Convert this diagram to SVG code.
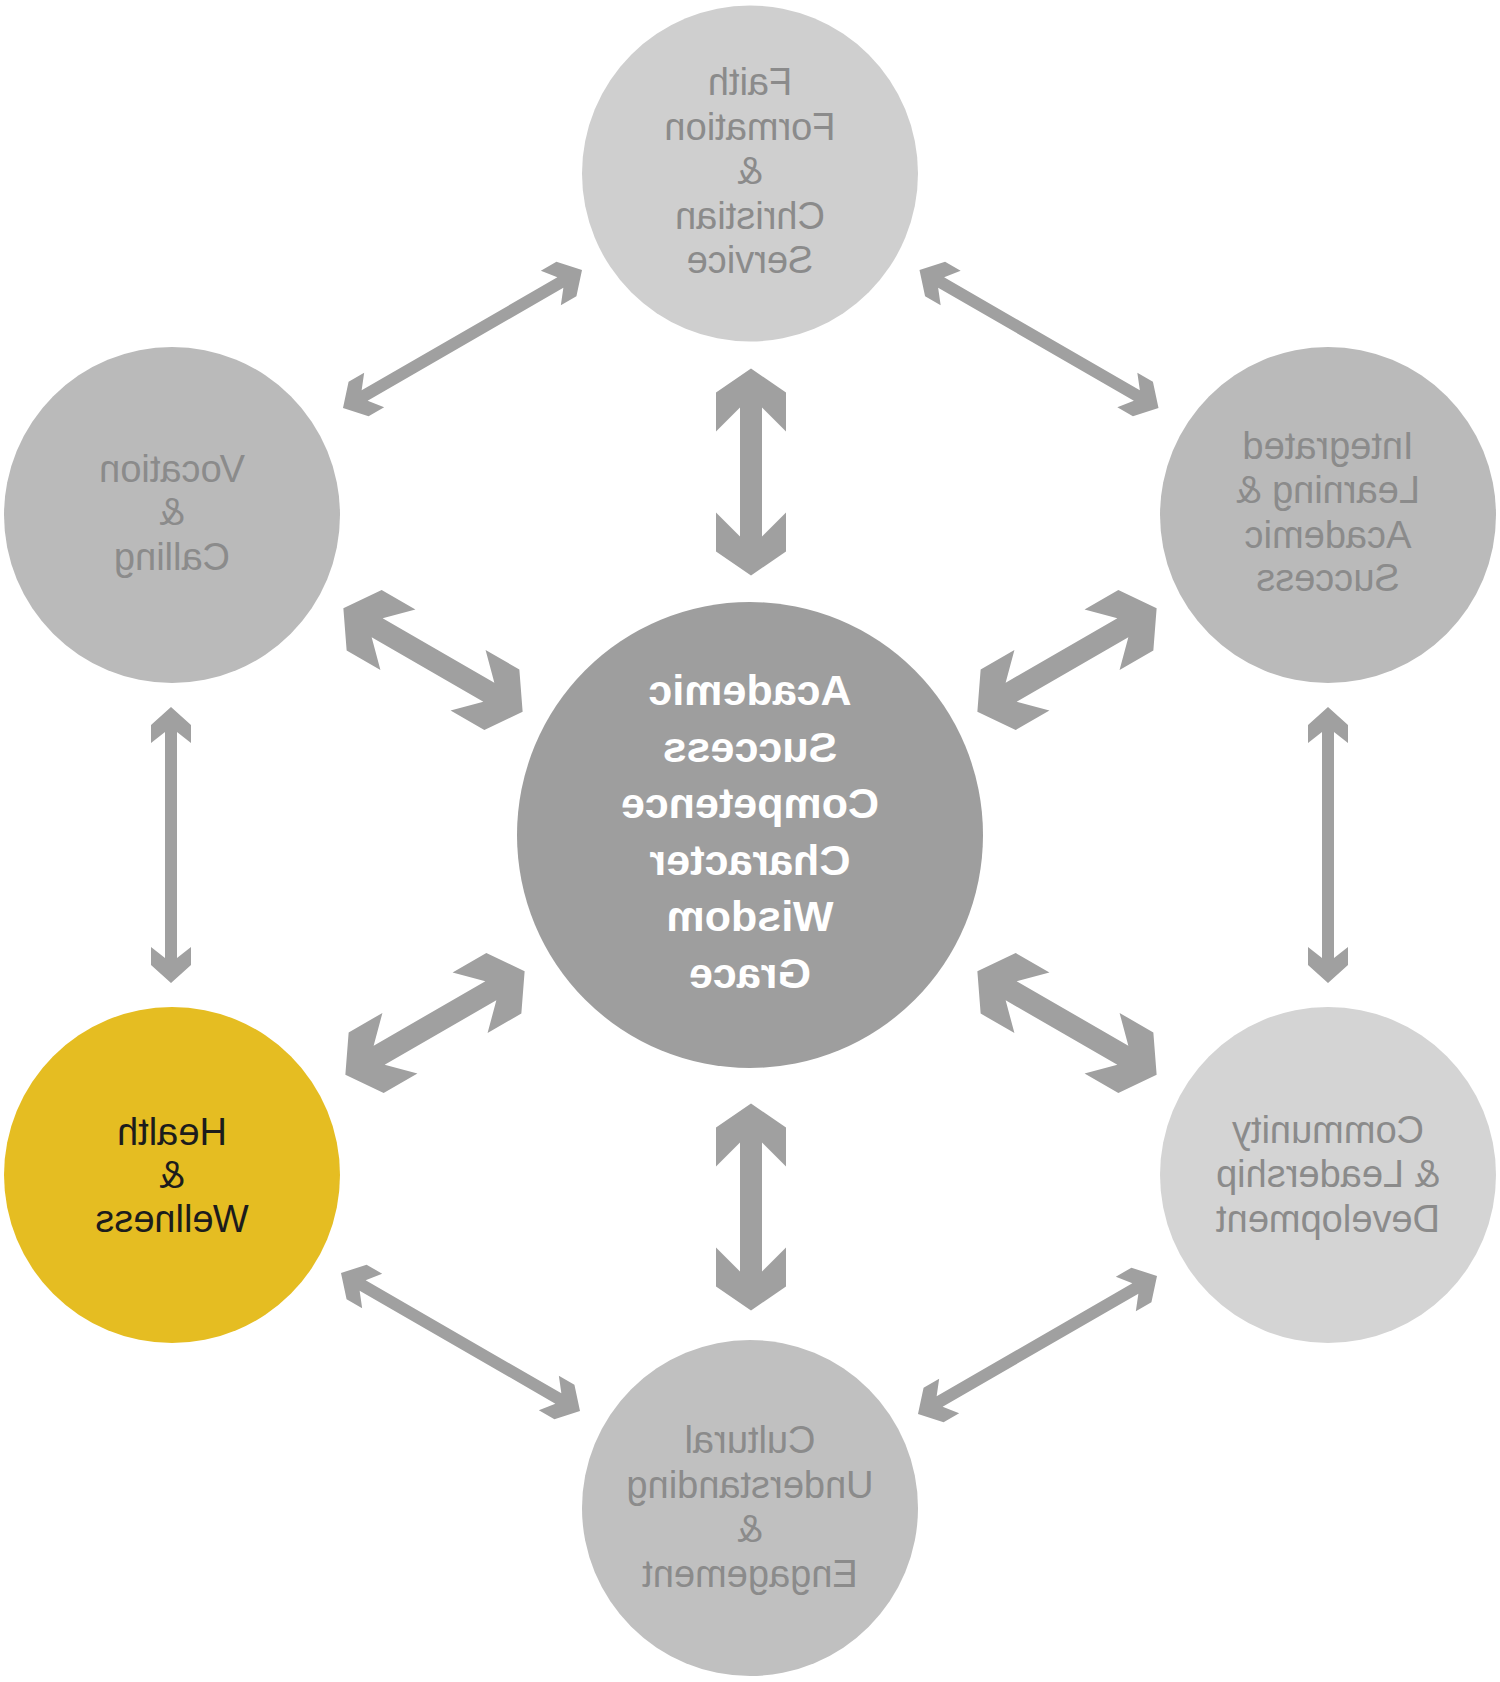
<svg xmlns="http://www.w3.org/2000/svg" xmlns:xlink="http://www.w3.org/1999/xlink" width="1500" height="1682" viewBox="0 0 1500 1682">
<style>
.lbl{font-family:"Liberation Sans",Arial,sans-serif;font-size:38px;fill:#8b8b8b;text-anchor:middle}
.ctr{font-family:"Liberation Sans",Arial,sans-serif;font-size:43px;font-weight:bold;fill:#ffffff;text-anchor:middle}
.dark{fill:#1c1c1c}
.arr{fill:#a0a0a0}
</style>
<defs>
<polygon id="thin" points="138,0 120,-20 102,-20 113,-6 -113,-6 -102,-20 -120,-20 -138,0 -120,20 -102,20 -113,6 113,6 102,20 120,20"/>
<polygon id="thick" points="103.5,0 79.5,-35 40.5,-35 64.5,-11 -64.5,-11 -40.5,-35 -79.5,-35 -103.5,0 -79.5,35 -40.5,35 -64.5,11 64.5,11 40.5,35 79.5,35"/>
</defs>
<rect width="1500" height="1682" fill="#ffffff"/>
<g id="connectors" class="arr">
<use xlink:href="#thin" transform="translate(462.5 339) rotate(-30)"/>
<use xlink:href="#thin" transform="translate(1039 339) rotate(30)"/>
<use xlink:href="#thin" transform="translate(171 845) rotate(90)"/>
<use xlink:href="#thin" transform="translate(1328 845) rotate(90)"/>
<use xlink:href="#thin" transform="translate(460.5 1342) rotate(30)"/>
<use xlink:href="#thin" transform="translate(1037.5 1345) rotate(-30)"/>
<use xlink:href="#thick" transform="translate(751 472) rotate(90)"/>
<use xlink:href="#thick" transform="translate(751 1207) rotate(90)"/>
<use xlink:href="#thick" transform="translate(433 660) rotate(30)"/>
<use xlink:href="#thick" transform="translate(1067 660) rotate(-30)"/>
<use xlink:href="#thick" transform="translate(435 1023) rotate(-30)"/>
<use xlink:href="#thick" transform="translate(1067 1023) rotate(30)"/>
</g>
<g id="node-faith">
<circle cx="750" cy="173.5" r="168" fill="#cfcfcf"/>
<g transform="matrix(-1 0 0 1 1500 0)">
<text class="lbl" x="750" y="95">Faith</text>
<text class="lbl" x="750" y="140">Formation</text>
<text class="lbl" x="750" y="184">&amp;</text>
<text class="lbl" x="750" y="229">Christian</text>
<text class="lbl" x="750" y="273">Service</text>
</g>
</g>
<g id="node-vocation">
<circle cx="172" cy="515" r="168" fill="#bababa"/>
<g transform="matrix(-1 0 0 1 344 0)">
<text class="lbl" x="172" y="482">Vocation</text>
<text class="lbl" x="172" y="525">&amp;</text>
<text class="lbl" x="172" y="570">Calling</text>
</g>
</g>
<g id="node-integrated">
<circle cx="1328" cy="515" r="168" fill="#bababa"/>
<g transform="matrix(-1 0 0 1 2656 0)">
<text class="lbl" x="1328" y="459">Integrated</text>
<text class="lbl" x="1328" y="503">Learning &amp;</text>
<text class="lbl" x="1328" y="548">Academic</text>
<text class="lbl" x="1328" y="591">Success</text>
</g>
</g>
<g id="node-center">
<circle cx="750" cy="835" r="233" fill="#9e9e9e"/>
<g transform="matrix(-1 0 0 1 1500 0)">
<text class="ctr" x="750" y="705">Academic</text>
<text class="ctr" x="750" y="761.5">Success</text>
<text class="ctr" x="750" y="818">Competence</text>
<text class="ctr" x="750" y="874.5">Character</text>
<text class="ctr" x="750" y="931">Wisdom</text>
<text class="ctr" x="750" y="987.5">Grace</text>
</g>
</g>
<g id="node-health">
<circle cx="172" cy="1175" r="168" fill="#e5bd22"/>
<g transform="matrix(-1 0 0 1 344 0)">
<text class="lbl dark" x="172" y="1145">Health</text>
<text class="lbl dark" x="172" y="1188">&amp;</text>
<text class="lbl dark" x="172" y="1232">Wellness</text>
</g>
</g>
<g id="node-community">
<circle cx="1328" cy="1175" r="168" fill="#d4d4d4"/>
<g transform="matrix(-1 0 0 1 2656 0)">
<text class="lbl" x="1328" y="1143">Community</text>
<text class="lbl" x="1328" y="1187">&amp; Leadership</text>
<text class="lbl" x="1328" y="1232">Development</text>
</g>
</g>
<g id="node-cultural">
<circle cx="750" cy="1508" r="168" fill="#c0c0c0"/>
<g transform="matrix(-1 0 0 1 1500 0)">
<text class="lbl" x="750" y="1453">Cultural</text>
<text class="lbl" x="750" y="1498">Understanding</text>
<text class="lbl" x="750" y="1542">&amp;</text>
<text class="lbl" x="750" y="1587">Engagement</text>
</g>
</g>
</svg>
